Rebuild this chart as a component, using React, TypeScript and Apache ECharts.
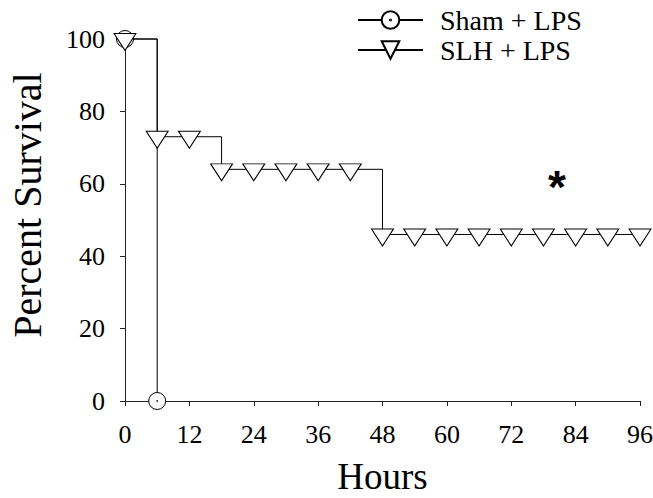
import React, { useEffect, useRef } from "react";
import * as echarts from "echarts";

// ---- data ----
const seriesNames = ["Sham + LPS", "SLH + LPS"];
const shamHours = [0, 6];
const shamSurvival = [100, 0];
const slhHours = [0, 6, 12, 18, 24, 30, 36, 42, 48, 54, 60, 66, 72, 78, 84, 90, 96];
const slhSurvival = [100, 73, 73, 64, 64, 64, 64, 64, 46, 46, 46, 46, 46, 46, 46, 46, 46];
const xRange = { min: 0, max: 96, interval: 12 };
const yRange = { min: 0, max: 100, interval: 20 };
const significanceMark = { hour: 80.5, value: 59, text: "*" };
const axisNames = { x: "Hours", y: "Percent Survival" };

const SERIF = "'Liberation Serif', 'Times New Roman', serif";
const CIRCLE_DOT =
  "path://M0,10A10,10 0 1,0 20,10A10,10 0 1,0 0,10Z M9.4,10A0.6,0.6 0 1,0 10.6,10A0.6,0.6 0 1,0 9.4,10Z";
const DOWN_TRIANGLE = "path://M0,0L22,0L11,17Z";

export default function App() {
  const ref = useRef<HTMLDivElement>(null);
  useEffect(() => {
    const chart = echarts.init(ref.current!, null, { renderer: "svg" });
    const shamData = shamHours.map((h, i) => [h, shamSurvival[i]]);
    const slhData = slhHours.map((h, i) => [h, slhSurvival[i]]);
    chart.setOption({
      animation: false,
      backgroundColor: "#fff",
      grid: {
        left: 125,
        right: 13,
        top: 39,
        bottom: 97,
        containLabel: false,
        outerBoundsMode: "none",
      },
      legend: {
        orient: "vertical",
        left: 357,
        top: 6,
        padding: 0,
        itemWidth: 65,
        itemHeight: 22,
        itemGap: 2,
        data: seriesNames,
        textStyle: {
          fontFamily: SERIF,
          fontSize: 28,
          lineHeight: 28,
          color: "#000",
          padding: [0, 0, 0, 12],
        },
      },
      xAxis: {
        type: "value",
        min: xRange.min,
        max: xRange.max,
        interval: xRange.interval,
        name: axisNames.x,
        nameLocation: "middle",
        nameGap: 60,
        nameTextStyle: { fontFamily: SERIF, fontSize: 37, lineHeight: 30, color: "#000" },
        axisLine: { show: true, onZero: false, lineStyle: { color: "#222", width: 1 } },
        axisTick: { show: true, inside: false, length: 5, lineStyle: { color: "#222" } },
        splitLine: { show: false },
        axisLabel: { fontFamily: SERIF, fontSize: 26, color: "#000", margin: 20 },
      },
      yAxis: {
        type: "value",
        min: yRange.min,
        max: yRange.max,
        interval: yRange.interval,
        name: axisNames.y,
        nameLocation: "middle",
        nameGap: 78,
        nameRotate: 90,
        nameTextStyle: {
          fontFamily: SERIF,
          fontSize: 40,
          color: "#000",
          padding: [0, 0, 0, 30],
        },
        axisLine: { show: true, onZero: false, lineStyle: { color: "#222", width: 1 } },
        axisTick: { show: true, inside: false, length: 5, lineStyle: { color: "#222" } },
        splitLine: { show: false },
        axisLabel: { fontFamily: SERIF, fontSize: 26, color: "#000", margin: 20 },
      },
      series: [
        {
          name: seriesNames[0],
          type: "line",
          step: "end",
          data: shamData,
          symbol: CIRCLE_DOT,
          symbolSize: 17,
          showAllSymbol: true,
          clip: false,
          lineStyle: { color: "#000", width: 1 },
          itemStyle: { color: "#fff", borderColor: "#000", borderWidth: 1 },
          emphasis: { disabled: true },
        },
        {
          name: seriesNames[1],
          type: "line",
          step: "end",
          data: slhData,
          symbol: DOWN_TRIANGLE,
          symbolSize: [22, 17],
          symbolOffset: [0, 3],
          showAllSymbol: true,
          clip: false,
          lineStyle: { color: "#000", width: 1 },
          itemStyle: { color: "#fff", borderColor: "#000", borderWidth: 1 },
          emphasis: { disabled: true },
          markPoint: {
            silent: true,
            symbol: "circle",
            symbolSize: 1,
            itemStyle: { color: "rgba(0,0,0,0)", borderWidth: 0 },
            label: {
              show: true,
              position: "inside",
              formatter: significanceMark.text,
              fontFamily: "'Liberation Sans', Arial, sans-serif",
              fontWeight: "bold",
              fontSize: 46,
              color: "#000",
            },
            data: [{ coord: [significanceMark.hour, significanceMark.value] }],
          },
        },
      ],
    });
    return () => chart.dispose();
  }, []);
  return (
    <div
      ref={ref}
      style={{ position: "absolute", left: 0, top: 0, width: 653, height: 498 }}
    />
  );
}
